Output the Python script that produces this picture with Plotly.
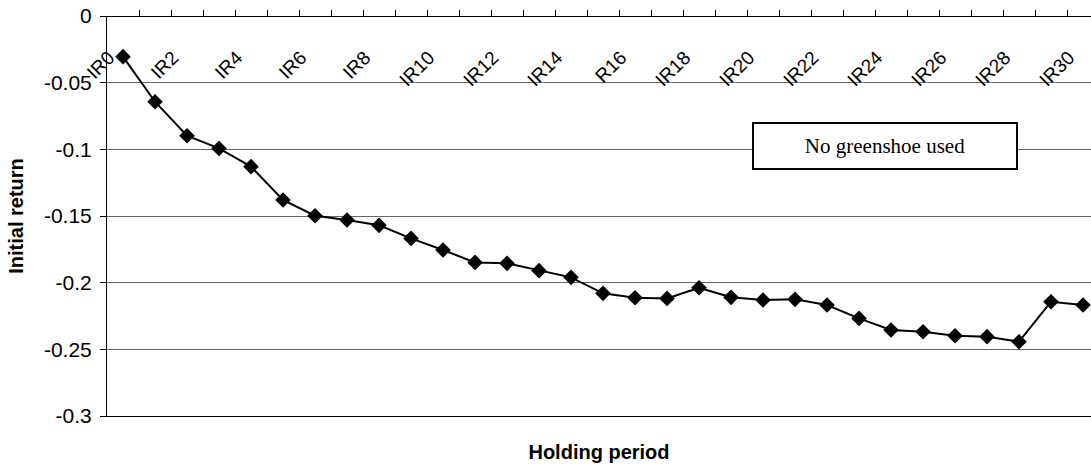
import plotly.graph_objects as go

categories = ["IR0", "IR1", "IR2", "IR3", "IR4", "IR5", "IR6", "IR7", "IR8", "IR9",
              "IR10", "IR11", "IR12", "IR13", "IR14", "IR15", "R16", "IR17", "IR18", "IR19",
              "IR20", "IR21", "IR22", "IR23", "IR24", "IR25", "IR26", "IR27", "IR28", "IR29", "IR30"]
initial_return = [-0.0305, -0.0643, -0.0898, -0.0993, -0.1130, -0.1380, -0.1498, -0.1530,
                  -0.1570, -0.1668, -0.1755, -0.1848, -0.1855, -0.1910, -0.1960, -0.2080,
                  -0.2113, -0.2118, -0.2038, -0.2110, -0.2130, -0.2125, -0.2168, -0.2268,
                  -0.2355, -0.2368, -0.2398, -0.2405, -0.2443, -0.2143, -0.2168]
y_tickvals = [0, -0.05, -0.1, -0.15, -0.2, -0.25, -0.3]
y_ticktext = ["0", "-0.05", "-0.1", "-0.15", "-0.2", "-0.25", "-0.3"]
x_ticktext = [c if i % 2 == 0 else "" for i, c in enumerate(categories)]

SANS = "Liberation Sans, Arial, sans-serif"
SERIF = "Liberation Serif, Times New Roman, serif"

fig = go.Figure()
fig.add_trace(go.Scatter(
    x=categories, y=initial_return, mode="lines+markers",
    line=dict(color="black", width=2),
    marker=dict(symbol="diamond", size=12, color="black"),
    showlegend=False, xaxis="x", yaxis="y",
))
# carrier trace so the bottom (title) axis is drawn
fig.add_trace(go.Scatter(
    x=categories, y=initial_return, mode="none", showlegend=False,
    hoverinfo="skip", xaxis="x2", yaxis="y",
))

fig.update_layout(
    width=1091, height=468,
    margin=dict(l=107, r=0, t=16, b=52),
    plot_bgcolor="white", paper_bgcolor="white",
    font=dict(family=SANS, color="black"),
    xaxis=dict(
        type="category", anchor="free", position=1, side="bottom",
        range=[-0.5, 30.25], automargin=False,
        tickmode="array", tickvals=categories, ticktext=x_ticktext,
        tickson="boundaries", ticks="inside", ticklen=6, tickcolor="black",
        tickangle=-45, tickfont=dict(size=19, family=SANS),
        ticklabelstandoff=22, ticklabelshift=-14,
        showline=True, linecolor="black", linewidth=1,
        showgrid=False, zeroline=False,
    ),
    xaxis2=dict(
        type="category", overlaying="x", anchor="y", side="bottom",
        range=[-0.5, 30.25], automargin=False,
        showline=True, linecolor="black", linewidth=1,
        showticklabels=False, ticks="", showgrid=False, zeroline=False,
        title=dict(text="<b>Holding period</b>", font=dict(size=20, family=SANS), standoff=28),
    ),
    yaxis=dict(
        range=[-0.3, 0], tickmode="array", tickvals=y_tickvals, ticktext=y_ticktext,
        ticks="outside", ticklen=6, tickcolor="black", automargin=False,
        tickfont=dict(size=21, family=SANS), ticklabelstandoff=4,
        ticklabeloverflow="allow",
        showline=True, linecolor="black", linewidth=1,
        showgrid=True, gridcolor="#666666", gridwidth=1, zeroline=False,
        title=dict(text="<b>Initial return</b>", font=dict(size=20, family=SANS), standoff=14),
    ),
)

fig.add_annotation(
    xref="paper", yref="paper", x=0.7907, y=0.675, xanchor="center", yanchor="middle",
    text="No greenshoe used", showarrow=False,
    font=dict(family=SERIF, size=21, color="black"),
    width=262, height=44, borderpad=0,
    bordercolor="black", borderwidth=2, bgcolor="white",
)

fig.write_html("out.html", config={"displayModeBar": False},
               post_script="document.body.style.margin='0';")
